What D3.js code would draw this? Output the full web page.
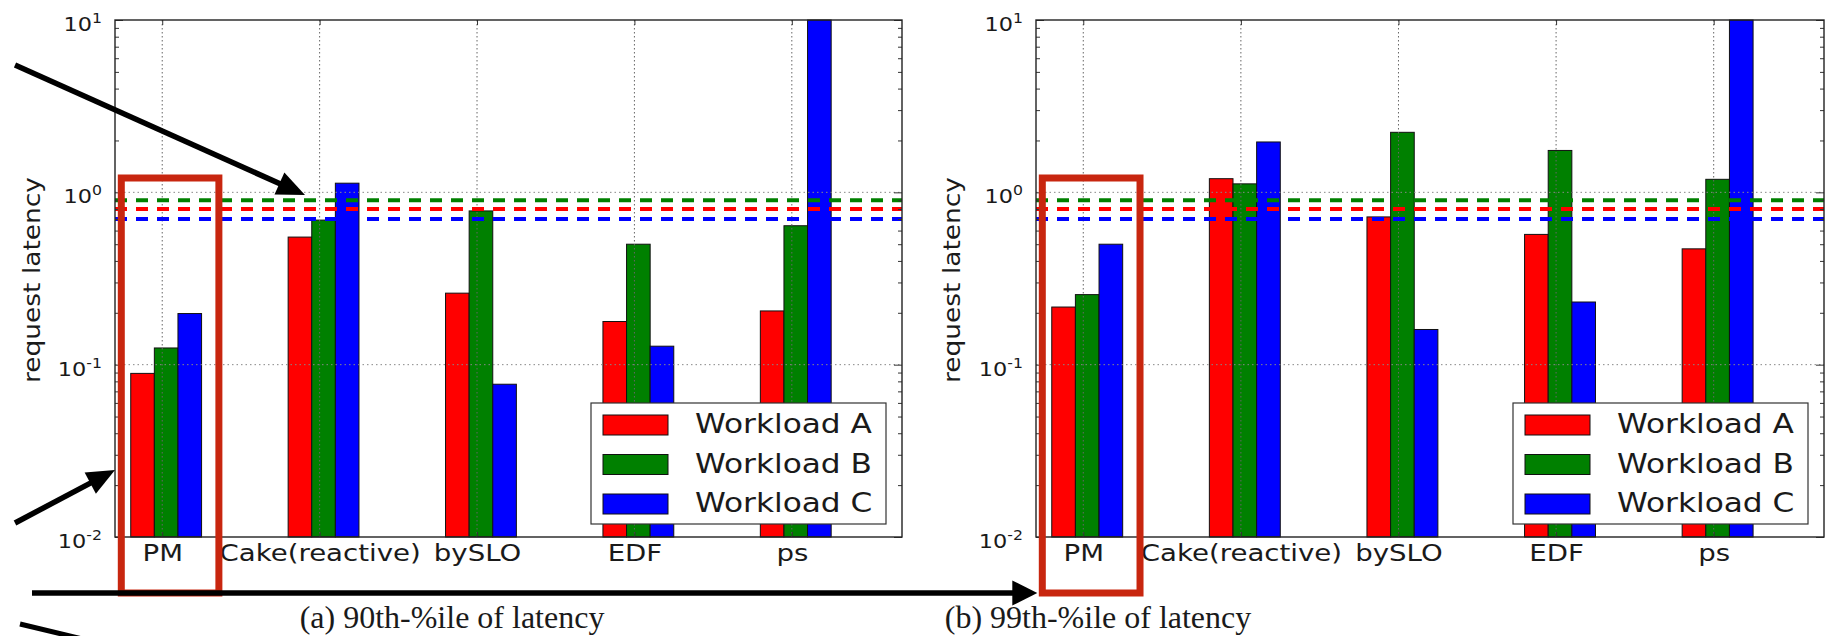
<!DOCTYPE html>
<html>
<head>
<meta charset="utf-8">
<script src="https://cdn.jsdelivr.net/npm/d3@7/dist/d3.min.js"></script>
<style>
  body { margin: 0; background: #fff; }
  svg { display: block; }
  text { font-family: "DejaVu Sans", sans-serif; fill: #1a1a1a; }
  .caption { font-family: "Liberation Serif", "Times New Roman", serif; }
</style>
</head>
<body>
<div id="chart"></div>
<script>
// data (request latency, log scale)
const categories = ["PM", "Cake(reactive)", "bySLO", "EDF", "ps"]
const workloads = ["Workload A", "Workload B", "Workload C"]

const p90A = [0.089, 0.55, 0.26, 0.178, 0.205]
const p90B = [0.125, 0.69, 0.78, 0.50, 0.64]
const p90C = [0.198, 1.13, 0.077, 0.128, 10]

const p99A = [0.216, 1.20, 0.72, 0.57, 0.47]
const p99B = [0.255, 1.12, 2.23, 1.75, 1.19]
const p99C = [0.50, 1.96, 0.160, 0.231, 10]

// dashed target lines, one per workload (A, B, C)
const sloTargets = [0.8, 0.9, 0.7]

const yTickValues = [0.01, 0.1, 1, 10]
const yTickExponents = ["-2", "-1", "0", "1"]
const captions = ["(a) 90th-%ile of latency", "(b) 99th-%ile of latency"]

;(function () {

  const W = 1826, H = 636
  const plotTop = 20, plotBottom = 537
  const colors = ["#ff0000", "#008000", "#0000ff"]
  const barOffsets = [-0.2, -0.05, 0.1]
  const barWidth = 0.15
  const sx = 1.2   // the source picture is stretched sideways

  const svg = d3.select("#chart").append("svg")
    .attr("width", W)
    .attr("height", H)

  const panels = [
    { left: 115, right: 902, series: [p90A, p90B, p90C], caption: captions[0], captionX: 452, ylabelX: 32 },
    { left: 1036, right: 1824, series: [p99A, p99B, p99C], caption: captions[1], captionX: 1098, ylabelX: 952 }
  ]

  const minors = []
  ;[0.01, 0.1, 1].forEach(dec => d3.range(2, 10).forEach(k => minors.push(k * dec)))

  panels.forEach(drawPanel)
  drawAnnotations()

  function drawPanel (p) {
    const x = d3.scaleLinear().domain([-0.3, 4.7]).range([p.left, p.right])
    const y = d3.scaleLog().domain([0.01, 10]).range([plotBottom, plotTop])

    const g = svg.append("g")

    // bars
    p.series.forEach((vals, s) => {
      g.append("g").selectAll("rect")
        .data(vals)
        .join("rect")
        .attr("x", (d, i) => x(i + barOffsets[s]))
        .attr("width", x(barWidth) - x(0))
        .attr("y", d => y(Math.min(d, 10)))
        .attr("height", d => y(0.01) - y(Math.min(d, 10)))
        .attr("fill", colors[s])
        .attr("stroke", "#111")
        .attr("stroke-width", 1)
    })

    // dotted grid, drawn over the bars like the original
    g.append("g").selectAll("line")
      .data(d3.range(categories.length))
      .join("line")
      .attr("x1", d => x(d)).attr("x2", d => x(d))
      .attr("y1", plotTop).attr("y2", plotBottom)
      .attr("stroke", "#666")
      .attr("stroke-width", 1)
      .style("stroke-dasharray", "1.5,2.5")

    g.append("g").selectAll("line")
      .data([0.1, 1])
      .join("line")
      .attr("x1", p.left).attr("x2", p.right)
      .attr("y1", d => y(d)).attr("y2", d => y(d))
      .attr("stroke", "#888")
      .attr("stroke-width", 1)
      .style("stroke-dasharray", "1.5,3")

    // target lines
    g.append("g").selectAll("line")
      .data(sloTargets)
      .join("line")
      .attr("x1", p.left).attr("x2", p.right)
      .attr("y1", d => y(d)).attr("y2", d => y(d))
      .attr("stroke", (d, i) => colors[i])
      .attr("stroke-width", 4)
      .style("stroke-dasharray", "12,9")

    // axes (ticks point inward)
    const xBottom = d3.axisBottom(x)
      .tickValues(d3.range(categories.length))
      .tickFormat(i => categories[i])
      .tickSizeInner(-5).tickSizeOuter(0).tickPadding(8)
    g.append("g")
      .attr("transform", "translate(0," + plotBottom + ")")
      .call(xBottom)
      .call(a => a.select(".domain").remove())
      .call(a => a.selectAll("text")
        .attr("font-size", 23)
        .attr("font-family", "DejaVu Sans")
        .attr("fill", "#1a1a1a")
        .attr("transform", "scale(" + sx + ",1)"))

    g.append("g")
      .attr("transform", "translate(0," + plotTop + ")")
      .call(d3.axisTop(x).tickValues(d3.range(categories.length)).tickFormat("").tickSizeInner(-5).tickSizeOuter(0))
      .call(a => a.select(".domain").remove())

    g.append("g")
      .attr("transform", "translate(" + p.left + ",0)")
      .call(d3.axisLeft(y).tickValues(yTickValues).tickFormat("").tickSizeInner(-8).tickSizeOuter(0))
      .call(a => a.select(".domain").remove())
    g.append("g")
      .attr("transform", "translate(" + p.left + ",0)")
      .call(d3.axisLeft(y).tickValues(minors).tickFormat("").tickSizeInner(-4).tickSizeOuter(0))
      .call(a => a.select(".domain").remove())
    g.append("g")
      .attr("transform", "translate(" + p.right + ",0)")
      .call(d3.axisRight(y).tickValues(yTickValues).tickFormat("").tickSizeInner(-8).tickSizeOuter(0))
      .call(a => a.select(".domain").remove())
    g.append("g")
      .attr("transform", "translate(" + p.right + ",0)")
      .call(d3.axisRight(y).tickValues(minors).tickFormat("").tickSizeInner(-4).tickSizeOuter(0))
      .call(a => a.select(".domain").remove())

    g.selectAll(".tick line").attr("stroke", "#333")

    // y tick labels as 10 with a superscript
    const yl = g.append("g").selectAll("text")
      .data(yTickValues)
      .join("text")
      .attr("text-anchor", "end")
      .attr("font-size", 20)
      .attr("transform", d => "translate(" + (p.left - 13) + "," + (y(d) + 11) + ") scale(1.12,1)")
    yl.append("tspan").text("10")
    yl.append("tspan")
      .attr("dy", -8)
      .attr("font-size", 14)
      .text((d, i) => yTickExponents[i])

    // frame
    g.append("rect")
      .attr("x", p.left).attr("y", plotTop)
      .attr("width", p.right - p.left).attr("height", plotBottom - plotTop)
      .attr("fill", "none")
      .attr("stroke", "#222")
      .attr("stroke-width", 1.4)

    // y label
    g.append("text")
      .attr("text-anchor", "middle")
      .attr("dominant-baseline", "central")
      .attr("font-size", 23)
      .attr("transform", "translate(" + p.ylabelX + ",280) rotate(-90) scale(1.15,1)")
      .text("request latency")

    // legend
    const lx = p.right - 16 - 295, ly = 403
    const legend = g.append("g").attr("transform", "translate(" + lx + "," + ly + ")")
    legend.append("rect")
      .attr("width", 295).attr("height", 121)
      .attr("fill", "#fff")
      .attr("stroke", "#333")
      .attr("stroke-width", 1.2)
    const rows = legend.selectAll("g")
      .data(workloads)
      .join("g")
      .attr("transform", (d, i) => "translate(0," + (12 + i * 39.5) + ")")
    rows.append("rect")
      .attr("x", 12).attr("width", 65).attr("height", 20)
      .attr("fill", (d, i) => colors[i])
      .attr("stroke", "#111")
    rows.append("text")
      .attr("font-size", 26)
      .attr("transform", "translate(104,18) scale(" + sx + ",1)")
      .text(d => d)

    // caption
    svg.append("text")
      .attr("class", "caption")
      .attr("x", p.captionX)
      .attr("y", 628)
      .attr("text-anchor", "middle")
      .attr("font-size", 32)
      .text(p.caption)

    // red highlight box around PM
    svg.append("rect")
      .attr("x", x(-0.26)).attr("y", 178)
      .attr("width", x(0.36) - x(-0.26)).attr("height", 415)
      .attr("fill", "none")
      .attr("stroke", "#c8260f")
      .attr("stroke-width", 7)

    p.x = x
  }

  function arrow (x1, y1, x2, y2, len, half, width) {
    const dx = x2 - x1, dy = y2 - y1
    const l = Math.sqrt(dx * dx + dy * dy)
    const ux = dx / l, uy = dy / l
    const bx = x2 - ux * len, by = y2 - uy * len
    svg.append("line")
      .attr("x1", x1).attr("y1", y1)
      .attr("x2", x2 - ux * len * 0.5).attr("y2", y2 - uy * len * 0.5)
      .attr("stroke", "#000")
      .attr("stroke-width", width)
    svg.append("polygon")
      .attr("points", [[x2, y2], [bx - uy * half, by + ux * half], [bx + uy * half, by - ux * half]].join(" "))
      .attr("fill", "#000")
  }

  function drawAnnotations () {
    arrow(15, 65, 305, 195, 28, 12, 5.5)
    arrow(15, 523, 115, 470, 28, 12, 5.5)
    arrow(32, 593, panels[1].x(-0.26) - 5, 593, 25, 12.5, 5.5)
    svg.append("line")
      .attr("x1", 20).attr("y1", 624)
      .attr("x2", 95).attr("y2", 642)
      .attr("stroke", "#000")
      .attr("stroke-width", 5)
  }

})()
</script>
</body>
</html>
